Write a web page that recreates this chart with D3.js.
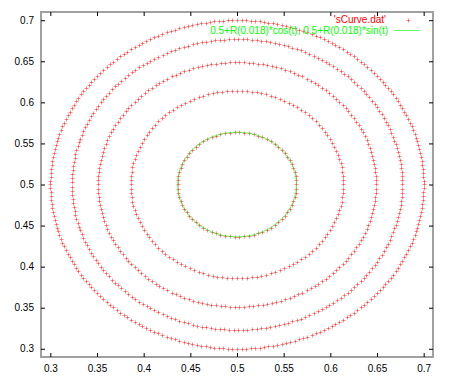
<!DOCTYPE html>
<html>
<head>
  <meta charset="utf-8">
  <script src="https://d3js.org/d3.v7.min.js"></script>
  <style>
    body { margin: 0; background: #fff; }
    svg { display: block; font-family: "Liberation Sans", Arial, sans-serif; }
    .axis text { font-size: 10px; fill: #000; }
    .axis line { stroke: #000; }
    .axis .domain { stroke: none; }
  </style>
</head>
<body>
  <svg id="chart" width="450" height="378"></svg>
  <script>
    // ring radii (centre 0.5, 0.5) and points per ring
    const ringRadius = [0.2, 0.177, 0.149, 0.114, 0.0637];
    const ringPoints = [260, 225, 186, 136, 78];
    const curveR = 0.0637;   // R(0.018)
    const curveSamples = 100;
    const tickValues = [0.3, 0.35, 0.4, 0.45, 0.5, 0.55, 0.6, 0.65, 0.7];
    const legendLabels = ["'sCurve.dat'", "0.5+R(0.018)*cos(t), 0.5+R(0.018)*sin(t)"];

    const svg = d3.select("svg#chart");
    const margin = { top: 12, right: 17, bottom: 21, left: 41 };
    const width = 450 - margin.left - margin.right;
    const height = 378 - margin.top - margin.bottom;

    const x = d3.scaleLinear().domain([0.29, 0.71]).range([margin.left, margin.left + width]);
    const y = d3.scaleLinear().domain([0.29, 0.71]).range([margin.top + height, margin.top]);
    const fmt = d3.format(".2~f");

    // border
    svg.append("rect")
      .attr("x", margin.left)
      .attr("y", margin.top)
      .attr("width", width)
      .attr("height", height)
      .attr("fill", "none")
      .attr("stroke", "#a0a0a0")
      .attr("stroke-width", 2);

    svg.append("g").attr("class", "axis")
      .attr("transform", `translate(${margin.left},0)`)
      .call(d3.axisLeft(y).tickValues(tickValues).tickFormat(fmt).tickSizeInner(-4).tickSizeOuter(0).tickPadding(7));
    svg.append("g").attr("class", "axis")
      .attr("transform", `translate(${margin.left + width},0)`)
      .call(d3.axisRight(y).tickValues(tickValues).tickFormat("").tickSizeInner(-4).tickSizeOuter(0));
    svg.append("g").attr("class", "axis")
      .attr("transform", `translate(0,${margin.top + height})`)
      .call(d3.axisBottom(x).tickValues(tickValues).tickFormat(fmt).tickSizeInner(-4).tickSizeOuter(0).tickPadding(8));
    svg.append("g").attr("class", "axis")
      .attr("transform", `translate(0,${margin.top})`)
      .call(d3.axisTop(x).tickValues(tickValues).tickFormat("").tickSizeInner(-4).tickSizeOuter(0));

    // data points
    let points = [];
    ringRadius.forEach((r, i) => {
      const n = ringPoints[i];
      for (let k = 0; k < n; k++) {
        const t = 2 * Math.PI * k / n;
        points.push({ x: 0.5 + r * Math.cos(t), y: 0.5 + r * Math.sin(t) });
      }
    });

    const plus = "M-2,0H2M0,-2V2";

    svg.append("g").selectAll("path.pt").data(points)
      .join("path")
      .attr("class", "pt")
      .attr("transform", d => `translate(${Math.round(x(d.x)) + 0.5},${Math.round(y(d.y)) + 0.5})`)
      .attr("d", plus)
      .attr("stroke", "#ff0000")
      .attr("stroke-opacity", 0.45)
      .attr("stroke-width", 1)
      .attr("fill", "none");

    // parametric curve
    const curve = d3.range(curveSamples + 1).map(i => {
      const t = 2 * Math.PI * i / curveSamples;
      return [0.5 + curveR * Math.cos(t), 0.5 + curveR * Math.sin(t)];
    });
    svg.append("path")
      .datum(curve)
      .attr("d", d3.line().x(d => x(d[0])).y(d => y(d[1])))
      .attr("fill", "none")
      .attr("stroke", "#00ff00")
      .attr("stroke-opacity", 0.6)
      .attr("stroke-width", 1);

    // legend
    const legend = svg.append("g");
    legend.append("text")
      .attr("x", 386).attr("y", 23)
      .attr("text-anchor", "end")
      .style("font-size", "10px")
      .attr("fill", "#ff0000")
      .text(legendLabels[0]);
    legend.append("path")
      .attr("transform", "translate(408.5,20.5)")
      .attr("d", plus)
      .attr("stroke", "#ff0000")
      .attr("stroke-opacity", 0.45)
      .attr("fill", "none");
    legend.append("text")
      .attr("x", 388).attr("y", 34)
      .attr("text-anchor", "end")
      .style("font-size", "10px")
      .attr("fill", "#00ff00")
      .text(legendLabels[1]);
    legend.append("line")
      .attr("x1", 394).attr("x2", 420)
      .attr("y1", 30.5).attr("y2", 30.5)
      .attr("stroke", "#00ff00")
      .attr("stroke-opacity", 0.6);
  </script>
</body>
</html>
